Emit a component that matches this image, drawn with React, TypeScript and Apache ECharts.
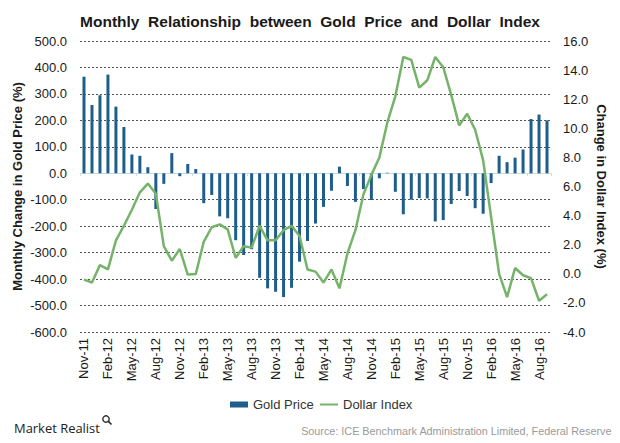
import React, { useEffect, useRef } from "react";
import * as echarts from "echarts";

const months: string[] = [
  "Nov-11", "Dec-11",
  "Jan-12", "Feb-12", "Mar-12", "Apr-12", "May-12", "Jun-12", "Jul-12", "Aug-12", "Sep-12", "Oct-12", "Nov-12", "Dec-12",
  "Jan-13", "Feb-13", "Mar-13", "Apr-13", "May-13", "Jun-13", "Jul-13", "Aug-13", "Sep-13", "Oct-13", "Nov-13", "Dec-13",
  "Jan-14", "Feb-14", "Mar-14", "Apr-14", "May-14", "Jun-14", "Jul-14", "Aug-14", "Sep-14", "Oct-14", "Nov-14", "Dec-14",
  "Jan-15", "Feb-15", "Mar-15", "Apr-15", "May-15", "Jun-15", "Jul-15", "Aug-15", "Sep-15", "Oct-15", "Nov-15", "Dec-15",
  "Jan-16", "Feb-16", "Mar-16", "Apr-16", "May-16", "Jun-16", "Jul-16", "Aug-16", "Sep-16",
];

const goldPrice: number[] = [
  365, 258, 295, 373, 252, 175, 71, 66, 23, -135, -40, 76, -11, 35, 16, -113,
  -82, -163, -170, -253, -309, -287, -395, -435, -448, -468, -433, -334, -256, -190,
  -127, -66, 25, -48, -108, -60, -101, -19, 2, -70, -155,
  -100, -94, -95, -182, -177, -116, -67, -86, -132, -153, -37, 66, 42, 59, 90, 205, 222, 200,
];

const dollarIndex: number[] = [
  -0.4, -0.6, 0.6, 0.3, 2.3, 3.3, 4.4, 5.6, 6.2, 5.5, 1.9, 0.9, 1.7, -0.05, -0.02, 2.2,
  3.2, 3.4, 3.05, 1.1, 1.9, 1.8, 3.3, 2.3, 2.3, 3.0, 3.3, 2.6, 0.3, 0.15,
  -0.6, 0.3, -1.0, 1.4, 3.0, 5.45, 6.8, 8.0, 10.4, 12.2, 14.9,
  14.7, 12.8, 13.3, 14.9, 14.2, 12.3, 10.2, 11.0, 9.9, 7.8, 3.9, 0.0, -1.6, 0.4, -0.1, -0.3, -1.85, -1.4,
];

const leftTicks = { min: -600, max: 500, interval: 100 };
const rightTicks = { min: -4, max: 16, interval: 2 };

const FONT = "'Liberation Sans', Arial, sans-serif";
const LOGO_FONT = "'Open Sans', sans-serif";
const BAR_COLOR = "#1f5e8a";
const LINE_COLOR = "#76b36a";

function measure(text: string, font: string): number {
  const ctx = document.createElement("canvas").getContext("2d");
  if (!ctx) return text.length * 7;
  ctx.font = font;
  return ctx.measureText(text).width;
}

export default function App() {
  const ref = useRef<HTMLDivElement>(null);
  useEffect(() => {
    document.body.style.margin = "0";
    if (!ref.current) return;
    const logoText = "Market Realist";
    const baseW = measure(logoText, `15px ${LOGO_FONT}`) || 100;
    const logoSize = Math.min(16, Math.max(12, (15 * 86) / baseW));
    const logoW = (baseW * logoSize) / 15;
    const iconX = 14 + logoW + 6;

    const chart = echarts.init(ref.current, undefined, { renderer: "svg" });
    chart.setOption({
      animation: false,
      backgroundColor: "#ffffff",
      textStyle: { fontFamily: FONT },
      title: {
        text: "Monthly  Relationship  between  Gold  Price  and  Dollar  Index",
        left: "center",
        top: 8,
        textStyle: { fontFamily: FONT, fontSize: 15.5, fontWeight: "bold", color: "#1a1a1a" },
      },
      legend: [
        {
          top: 393,
          left: 225,
          itemWidth: 18,
          itemHeight: 6,
          itemGap: 3,
          textStyle: { fontFamily: FONT, fontSize: 13, color: "#333" },
          data: [{ name: "Gold Price", icon: "rect" }],
        },
        {
          top: 393,
          left: 315,
          itemWidth: 18,
          itemHeight: 2,
          textStyle: { fontFamily: FONT, fontSize: 13, color: "#333" },
          data: [{ name: "Dollar Index", icon: "rect", itemStyle: { color: LINE_COLOR } }],
        },
      ],
      grid: { left: 80, right: 69, top: 41, bottom: 111 },
      xAxis: [
        {
          type: "category",
          data: months,
          boundaryGap: true,
          axisLine: { show: false, onZero: false },
          axisTick: { show: false },
          axisLabel: {
            interval: 2,
            rotate: 90,
            margin: 6,
            fontSize: 13,
            fontFamily: FONT,
            color: "#1a1a1a",
          },
          splitLine: { show: false },
        },
        {
          type: "category",
          data: months,
          position: "bottom",
          axisLine: { show: true, onZero: true, onZeroAxisIndex: 0, lineStyle: { color: "#c9dbe8", width: 1 } },
          axisTick: { show: true, length: 3, lineStyle: { color: "#c9dbe8" } },
          axisLabel: { show: false },
          splitLine: { show: false },
        },
      ],
      yAxis: [
        {
          type: "value",
          min: leftTicks.min,
          max: leftTicks.max,
          interval: leftTicks.interval,
          name: "Monthly Change in Gold Price (%)",
          nameLocation: "middle",
          nameGap: 56,
          nameRotate: 90,
          nameMoveOverlap: false,
          nameTextStyle: { fontFamily: FONT, fontSize: 13, fontWeight: "bold", color: "#1a1a1a" },
          axisLine: { show: false },
          axisTick: { show: false },
          axisLabel: {
            fontSize: 13,
            fontFamily: FONT,
            color: "#1a1a1a",
            margin: 13,
            formatter: (v: number) => v.toFixed(1),
          },
          splitLine: { show: true, lineStyle: { color: "#555", type: [2, 2], width: 1 } },
        },
        {
          type: "value",
          min: rightTicks.min,
          max: rightTicks.max,
          interval: rightTicks.interval,
          name: "Change in Dollar Index (%)",
          nameLocation: "middle",
          nameGap: 44,
          nameRotate: -90,
          nameMoveOverlap: false,
          nameTextStyle: { fontFamily: FONT, fontSize: 13, fontWeight: "bold", color: "#1a1a1a" },
          axisLine: { show: false },
          axisTick: { show: false },
          axisLabel: {
            fontSize: 13,
            fontFamily: FONT,
            color: "#1a1a1a",
            margin: 12,
            formatter: (v: number) => v.toFixed(1),
          },
          splitLine: { show: false },
        },
      ],
      series: [
        {
          name: "Gold Price",
          type: "bar",
          xAxisIndex: 0,
          yAxisIndex: 0,
          data: goldPrice,
          barWidth: 3,
          itemStyle: { color: BAR_COLOR },
        },
        {
          name: "Dollar Index",
          type: "line",
          xAxisIndex: 0,
          yAxisIndex: 1,
          data: dollarIndex,
          symbol: "none",
          lineStyle: { color: LINE_COLOR, width: 2.5 },
          itemStyle: { color: LINE_COLOR },
        },
      ],
      graphic: [
        {
          type: "text",
          left: 14,
          top: 421,
          style: { text: logoText, fontFamily: LOGO_FONT, fontSize: logoSize, fill: "#222" },
        },
        {
          type: "circle",
          shape: { cx: iconX, cy: 419, r: 3.2 },
          style: { fill: "none", stroke: "#222", lineWidth: 1.3 },
        },
        {
          type: "line",
          shape: { x1: iconX + 2.4, y1: 421.4, x2: iconX + 5.5, y2: 424.5 },
          style: { stroke: "#222", lineWidth: 1.5 },
        },
        {
          type: "text",
          right: 8,
          top: 425,
          style: {
            text: "Source: ICE Benchmark Administration Limited, Federal Reserve",
            fontFamily: FONT,
            fontSize: 10.8,
            fill: "#9a9a9a",
          },
        },
      ],
    });
    return () => chart.dispose();
  }, []);
  return <div ref={ref} style={{ width: 620, height: 443 }} />;
}
